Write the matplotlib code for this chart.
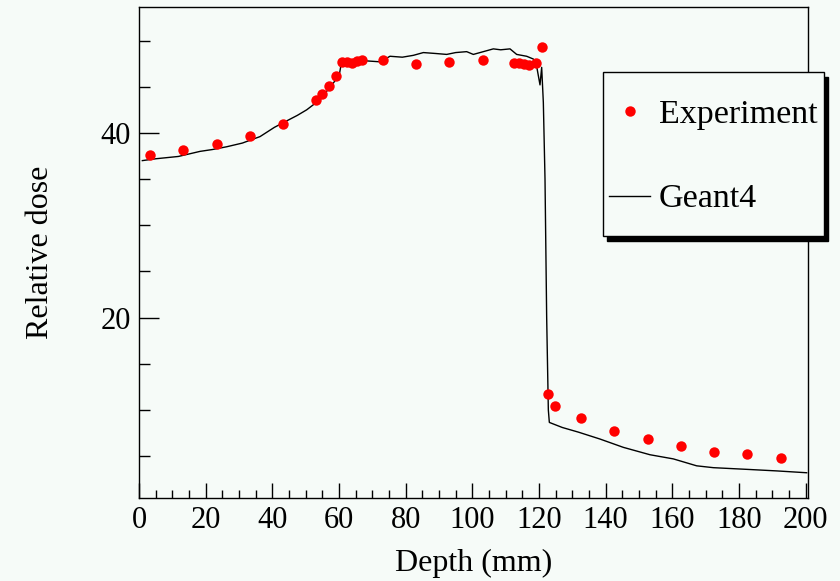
import matplotlib
matplotlib.use("Agg")
import matplotlib.pyplot as plt
from matplotlib.patches import Rectangle
from matplotlib.ticker import MultipleLocator

# experimental points (depth in mm, relative dose)
exp_depth = [3.3, 13.3, 23.3, 33.3, 43.1, 53.1, 54.8, 56.9, 59.1, 61.0, 62.5,
             64.0, 65.5, 67.0, 73.1, 83.1, 93.1, 103.1, 112.5, 114.0, 115.5,
             117.0, 119.0, 121.0, 122.6, 124.8, 132.6, 142.6, 152.6, 162.6,
             172.6, 182.4, 192.6]
exp_dose = [37.6, 38.2, 38.8, 39.7, 41.0, 43.6, 44.2, 45.1, 46.2, 47.7, 47.7,
            47.6, 47.8, 47.9, 47.9, 47.5, 47.7, 47.9, 47.6, 47.6, 47.5,
            47.3, 47.6, 49.3, 11.7, 10.4, 9.1, 7.75, 6.85, 6.1,
            5.5, 5.2, 4.85]

# Geant4 simulation curve
g4_depth = [1.0, 5.0, 11.8, 18.3, 22.0, 26.3, 31.0, 36.3, 40.6, 44.3, 47.5,
            50.3, 54.3, 58.3, 60.1, 60.8, 61.3, 63.3, 66.0, 68.2, 72.3, 75.3,
            79.0, 82.3, 85.3, 89.0, 92.3, 95.0, 98.3, 100.3, 102.3, 106.3,
            108.5, 111.3, 113.3, 116.3, 118.3, 119.3, 120.3, 120.8, 121.3,
            121.8, 122.3, 122.8, 123.1, 127.0, 131.8, 138.3, 145.3, 153.3,
            160.3, 167.3, 172.3, 183.3, 191.3, 200.3]
g4_dose = [37.0, 37.2, 37.45, 38.0, 38.2, 38.5, 38.9, 39.6, 40.6, 41.3, 41.9,
           42.5, 43.6, 45.4, 46.3, 47.8, 47.9, 47.6, 47.7, 47.8, 47.7, 48.3,
           48.2, 48.4, 48.7, 48.6, 48.5, 48.7, 48.8, 48.5, 48.7, 49.1,
           49.0, 49.1, 48.5, 48.3, 48.0, 47.2, 45.2, 47.1, 43.3,
           35.0, 20.0, 10.0, 8.65, 8.1, 7.6, 6.85, 5.95, 5.15,
           4.7, 3.95, 3.75, 3.55, 3.4, 3.2]

bg = "#f6fbf8"
plt.rcParams["font.family"] = ["Liberation Serif", "DejaVu Serif"]

fig = plt.figure(figsize=(8.4, 5.81), dpi=100, facecolor=bg)
ax = fig.add_axes([0.1655, 0.1434, 0.7964, 0.8440], facecolor=bg)

pts, = ax.plot(exp_depth, exp_dose, "o", color="red", markersize=7.5,
               markeredgewidth=0, label="Experiment", zorder=3)
line, = ax.plot(g4_depth, g4_dose, "-", color="black", linewidth=1.0,
                label="Geant4", zorder=2)

ax.set_xlim(0, 200.7)
ax.set_ylim(0.5, 53.6)
ax.xaxis.set_major_locator(MultipleLocator(20))
ax.xaxis.set_minor_locator(MultipleLocator(5))
ax.yaxis.set_major_locator(MultipleLocator(20))
ax.yaxis.set_minor_locator(MultipleLocator(5))

ax.tick_params(axis="both", which="both", direction="in", width=1.0,
               labelsize=22, top=False, right=False)
ax.tick_params(axis="x", which="major", length=11, pad=6)
ax.tick_params(axis="x", which="minor", length=6)
ax.tick_params(axis="y", which="major", length=14.5, pad=6)
ax.tick_params(axis="y", which="minor", length=8)
for s in ax.spines.values():
    s.set_linewidth(1.0)

ax.set_xlabel("Depth (mm)", fontsize=23)
ax.set_ylabel("Relative dose", fontsize=23)
ax.xaxis.set_label_coords(0.5, -0.105)
ax.yaxis.set_label_coords(-0.125, 0.5)

# legend box with black shadow (ROOT style)
W, H = 840.0, 581.0
shadow = Rectangle((607 / W, 1 - 240.5 / H), 221 / W, 164 / H,
                   transform=fig.transFigure, facecolor="black",
                   edgecolor="black", clip_on=False, zorder=4)
box = Rectangle((603 / W, 1 - 236 / H), 221 / W, 164 / H,
                transform=fig.transFigure, facecolor=bg, edgecolor="black",
                linewidth=1.0, clip_on=False, zorder=4.1)
ax.add_patch(shadow)
ax.add_patch(box)

leg = ax.legend(handles=[pts, line], loc="upper left",
                bbox_to_anchor=(606 / W, 1 - 96 / H),
                bbox_transform=fig.transFigure, borderaxespad=0,
                borderpad=0.1, frameon=False, fontsize=24.5, handlelength=1.2,
                handletextpad=0.25, labelspacing=1.57, numpoints=1)
leg.set_zorder(5)

fig.savefig("out.png", dpi=100, facecolor=bg)
